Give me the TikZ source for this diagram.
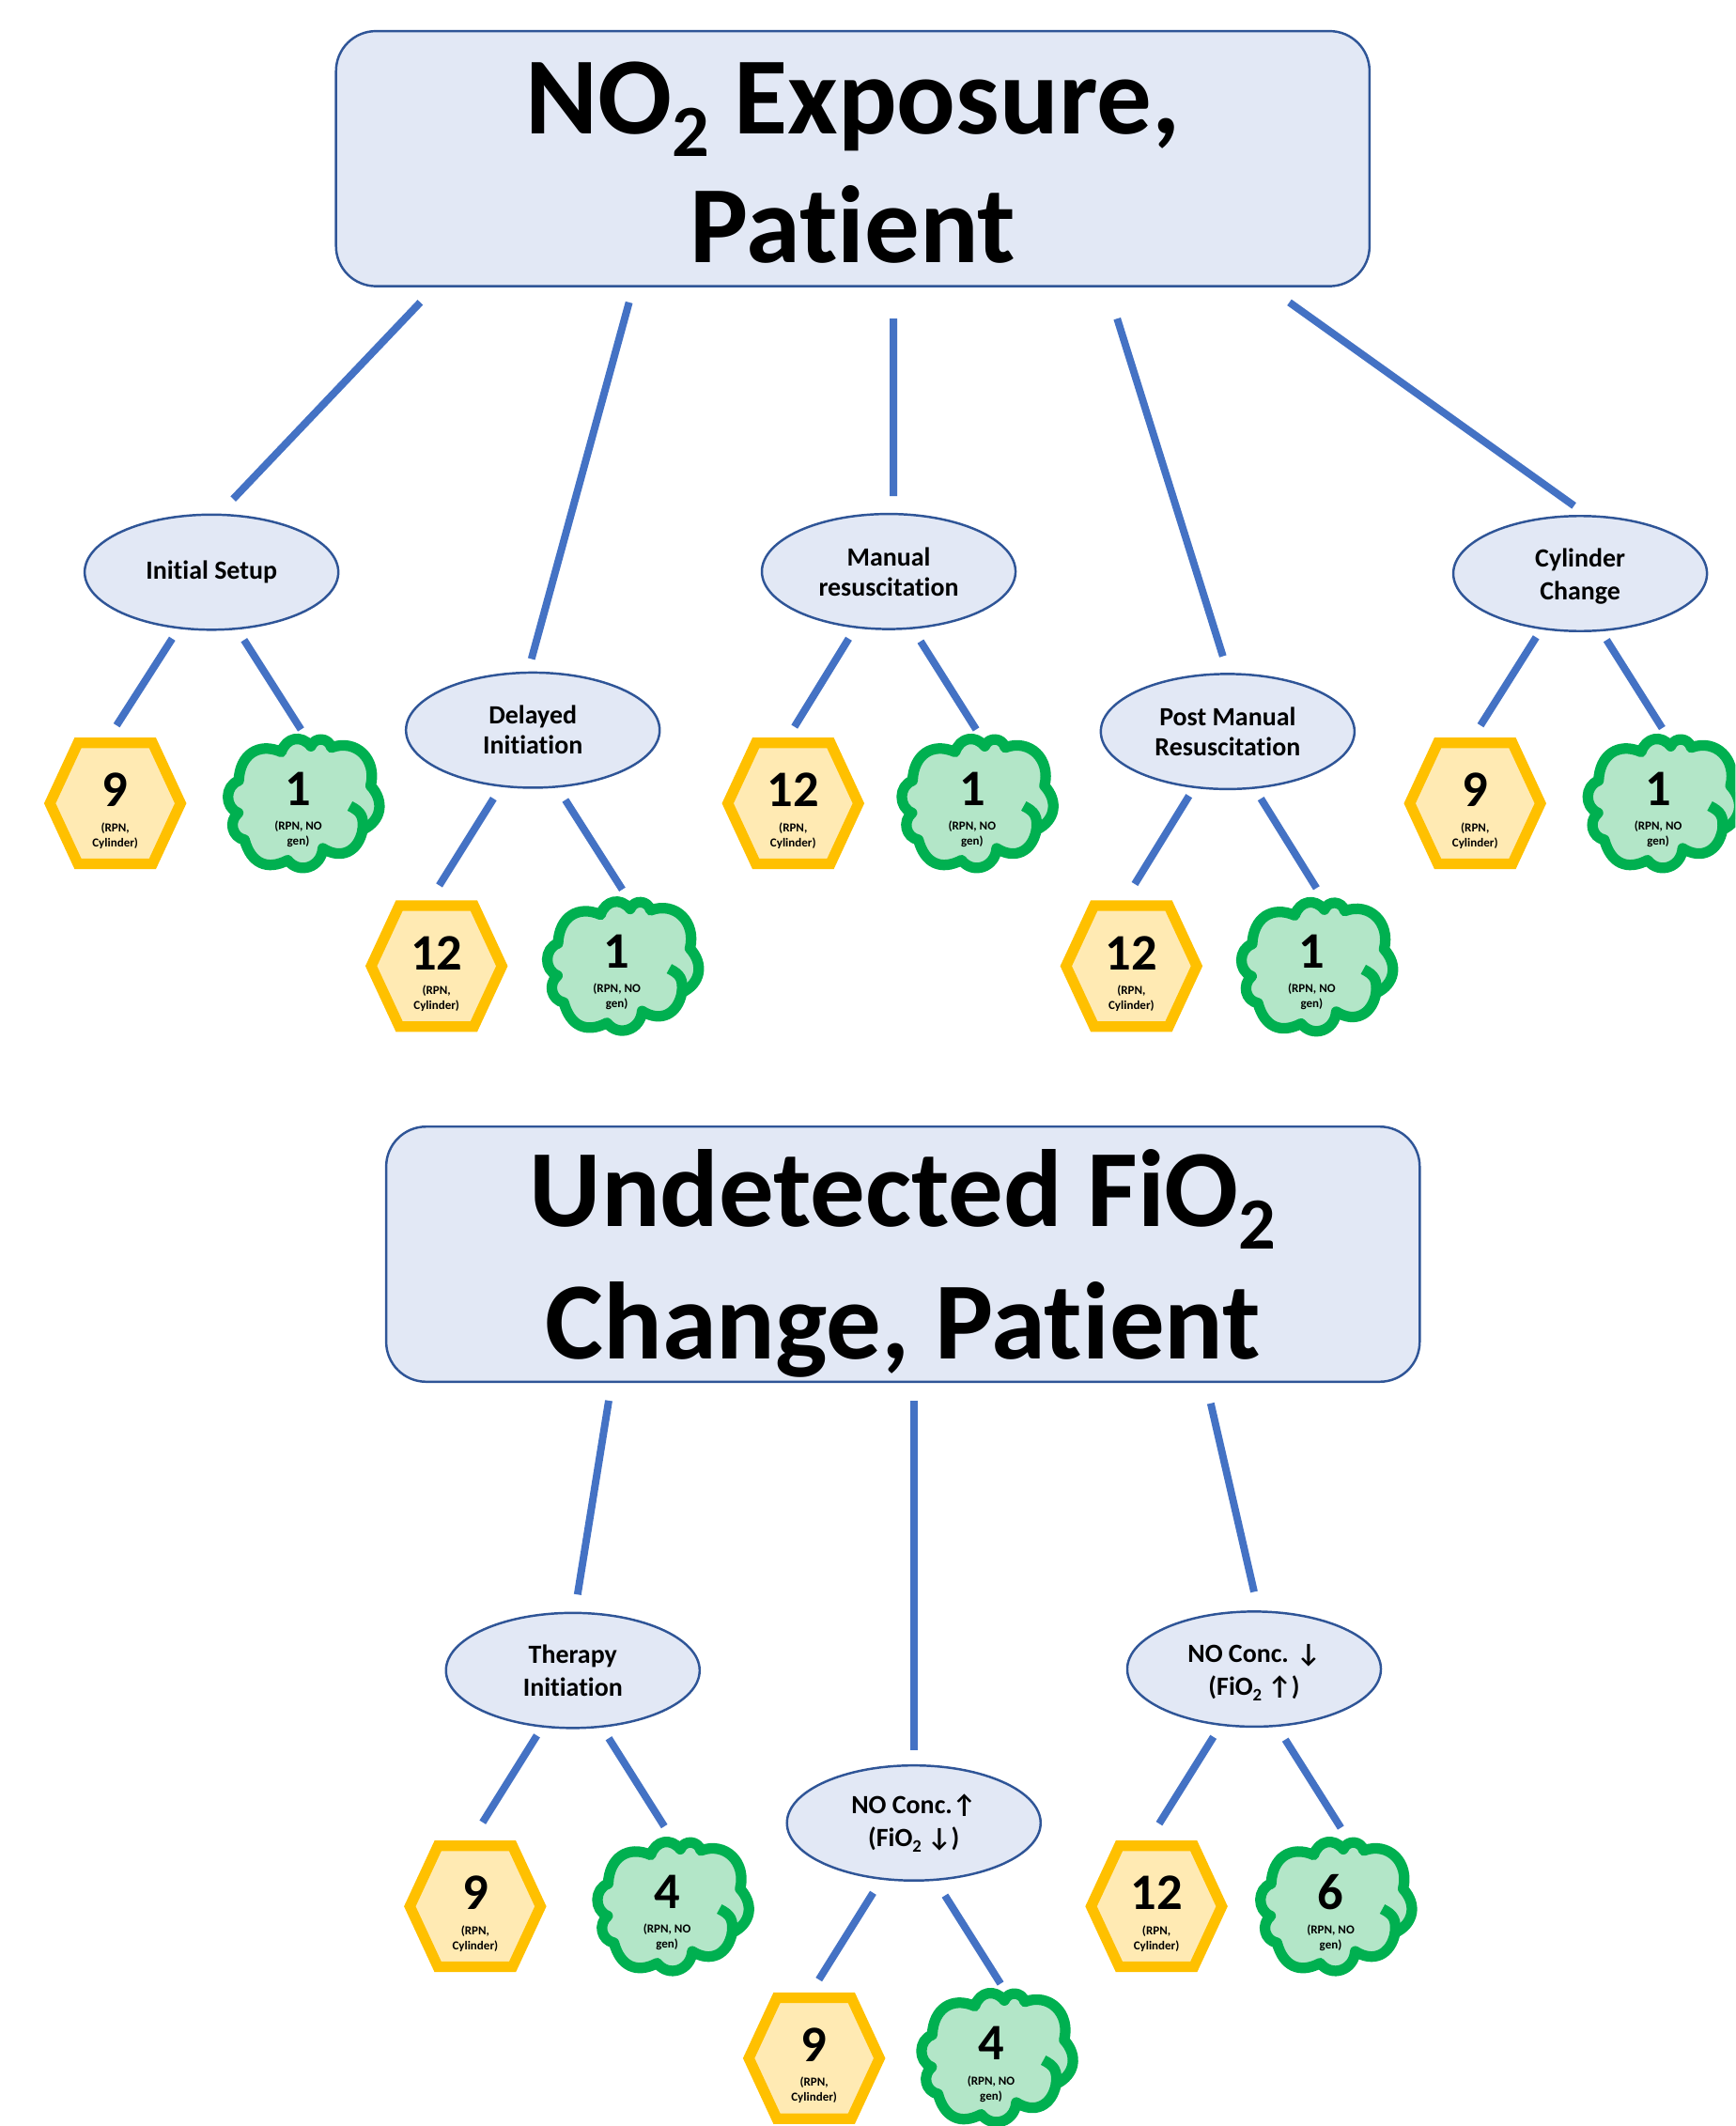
\documentclass[tikz,border=0pt]{standalone}
\usepackage{fontspec}
\setmainfont{Carlito}[Ligatures=CommonOff]
\usetikzlibrary{shapes.geometric}

\definecolor{linkblue}{HTML}{4472C4}
\definecolor{edgeblue}{HTML}{2F5597}
\definecolor{paleblue}{HTML}{E2E8F5}
\definecolor{hexedge}{HTML}{FFC000}
\definecolor{hexfill}{HTML}{FFEAB3}
\definecolor{cloudedge}{HTML}{00B050}
\definecolor{cloudfill}{HTML}{B3E6C8}

\newcommand{\numfont}{\fontsize{31}{32}\selectfont}
\newcommand{\subfont}{\fontsize{7.4}{9}\selectfont}
\newcommand{\hexnote}{\subfont (RPN,\\[-3pt]\subfont Cylinder)}
\newcommand{\cloudnote}{\subfont (RPN, NO\\[-3pt]\subfont gen)}
\newcommand{\lowtwo}{\raisebox{-0.21em}{\scalebox{0.67}{2}}}

\tikzset{
  link/.style={draw=linkblue, line width=4.5pt},
  title/.style={rectangle, rounded corners=8.5mm, draw=edgeblue, fill=paleblue, line width=1.4pt,
    minimum width=220mm, minimum height=54.3mm, align=center, inner sep=0pt,
    font=\fontsize{66.5}{78}\selectfont\bfseries},
  cause/.style={ellipse, draw=edgeblue, fill=paleblue, line width=1.4pt, minimum width=54mm,
    minimum height=24.5mm, align=center, inner sep=0pt, font=\fontsize{15.9}{18.2}\selectfont\bfseries},
  widecause/.style={cause, font=\fontsize{15.9}{19.8}\selectfont\bfseries},
  leaf/.style={align=center, inner sep=0pt, font=\bfseries},
  hexleaf/.pic={
    \draw[draw=hexedge, fill=hexfill, line width=6.4pt, line join=miter]
      (-27.5,-44.6) -- (27.5,-44.6) -- (48.2,0) -- (27.5,44.6) -- (-27.5,44.6) -- (-48.2,0) -- cycle;
  },
  cloudleaf/.pic={
    \begin{scope}[shift={(-1,0)}, xscale=1.02, yscale=1.08, looseness=1.25]
    \draw[draw=cloudedge, fill=cloudfill, line width=6.4pt, line join=round]
      (-46,-15.5) to[bend left=55] (-15.2,-35.1) to[bend left=60] (6.2,-39)
      to[bend left=70] (21,-38.1) to[bend left=62] (49.4,-12) to[bend left=55] (43.6,18)
      to[bend left=55] (14.8,30.7) to[bend left=68] (-10.6,38.8) to[bend left=50] (-41.8,24.9)
      to[bend left=65] (-46.4,6.5) to[bend left=70] (-46,-15.5) -- cycle;
    \draw[draw=cloudedge, line width=6.4pt] (34.4,1.8) to[bend left=35] (43.6,18);
    \end{scope}
  }
}

\begin{document}
\begin{tikzpicture}[x=0.2886mm, y=-0.2886mm]
\clip (0,0) rectangle (1280,1568);

% NO2 exposure
\node[title] (exposure) at (629,117) {\rule{0pt}{48pt}NO\lowtwo{} Exposure,\\Patient};

% Initial setup
\node[cause] (setup) at (156,422) {\raisebox{-5pt}{Initial Setup}};
\pic at (85,592.5) {hexleaf};
\node[leaf] (setuphex) at (85,598) {\numfont 9\\[3pt] \hexnote};
\pic at (224,592.5) {cloudleaf};
\node[leaf] (setupcloud) at (220,597) {\numfont 1\\[3pt] \cloudnote};
\draw[link] ([shift={(-319,106)}]exposure.center) -- ([shift={(16,-54)}]setup.center);
\draw[link] ([shift={(-29,49)}]setup.center) -- ([shift={(1,-63)}]setuphex.center);
\draw[link] ([shift={(24,50)}]setup.center) -- ([shift={(2,-59)}]setupcloud.center);

% Delayed initiation
\node[cause] (delayed) at (393,538.5) {Delayed\\Initiation};
\pic at (322,712.5) {hexleaf};
\node[leaf] (delayedhex) at (322,718) {\numfont 12\\[3pt] \hexnote};
\pic at (459.5,712.5) {cloudleaf};
\node[leaf] (delayedcloud) at (455,717) {\numfont 1\\[3pt] \cloudnote};
\draw[link] ([shift={(-165,106)}]exposure.center) -- ([shift={(-1,-52.5)}]delayed.center);
\draw[link] ([shift={(-29,50.5)}]delayed.center) -- ([shift={(2,-65)}]delayedhex.center);
\draw[link] ([shift={(24,51.5)}]delayed.center) -- ([shift={(4,-61)}]delayedcloud.center);

% Manual resuscitation
\node[cause] (manual) at (655.5,421.5) {Manual\\resuscitation};
\pic at (585,592.5) {hexleaf};
\node[leaf] (manualhex) at (585,598) {\numfont 12\\[3pt] \hexnote};
\pic at (721,592.5) {cloudleaf};
\node[leaf] (manualcloud) at (717,597) {\numfont 1\\[3pt] \cloudnote};
\draw[link] ([shift={(30,118)}]exposure.center) -- ([shift={(3.5,-55.5)}]manual.center);
\draw[link] ([shift={(-29.5,49.5)}]manual.center) -- ([shift={(1,-62)}]manualhex.center);
\draw[link] ([shift={(23.5,51.5)}]manual.center) -- ([shift={(3,-59)}]manualcloud.center);

% Post manual resuscitation
\node[cause] (postmanual) at (905.5,539.5) {Post Manual\\Resuscitation};
\pic at (834.5,712.5) {hexleaf};
\node[leaf] (postmanualhex) at (834.5,718) {\numfont 12\\[3pt] \hexnote};
\pic at (971.5,713) {cloudleaf};
\node[leaf] (postmanualcloud) at (967.5,717) {\numfont 1\\[3pt] \cloudnote};
\draw[link] ([shift={(195,118)}]exposure.center) -- ([shift={(-3.5,-55.5)}]postmanual.center);
\draw[link] ([shift={(-28.5,47.5)}]postmanual.center) -- ([shift={(2.5,-66)}]postmanualhex.center);
\draw[link] ([shift={(24.5,49.5)}]postmanual.center) -- ([shift={(3.5,-62)}]postmanualcloud.center);

% Cylinder change
\node[widecause] (cylinder) at (1165.5,423) {\rule{0pt}{15pt}Cylinder\\Change};
\pic at (1088,592.5) {hexleaf};
\node[leaf] (cylinderhex) at (1088,598) {\numfont 9\\[3pt] \hexnote};
\pic at (1227,592.5) {cloudleaf};
\node[leaf] (cylindercloud) at (1223,597) {\numfont 1\\[3pt] \cloudnote};
\draw[link] ([shift={(322,106)}]exposure.center) -- ([shift={(-4.5,-50)}]cylinder.center);
\draw[link] ([shift={(-32.5,47)}]cylinder.center) -- ([shift={(4,-63)}]cylinderhex.center);
\draw[link] ([shift={(19.5,49)}]cylinder.center) -- ([shift={(3,-60)}]cylindercloud.center);

% Undetected FiO2 change
\node[title] (undetected) at (666,925) {\rule{0pt}{58pt}Undetected FiO\lowtwo\\[2.5pt]Change, Patient};

% Therapy initiation
\node[widecause] (therapy) at (422.5,1232) {Therapy\\Initiation};
\pic at (350.5,1406) {hexleaf};
\node[leaf] (therapyhex) at (350.5,1411.5) {\numfont 9\\[3pt] \hexnote};
\pic at (496.5,1406) {cloudleaf};
\node[leaf] (therapycloud) at (492,1410.5) {\numfont 4\\[3pt] \cloudnote};
\draw[link] ([shift={(-217,108)}]undetected.center) -- ([shift={(3.5,-56)}]therapy.center);
\draw[link] ([shift={(-26.5,48)}]therapy.center) -- ([shift={(5.5,-67.5)}]therapyhex.center);
\draw[link] ([shift={(26.5,50)}]therapy.center) -- ([shift={(-2,-63.5)}]therapycloud.center);

% NO conc. up
\node[widecause] (concup) at (674,1344.5) {NO Conc.↑\\(FiO\lowtwo{} ↓)};
\pic at (600.5,1518) {hexleaf};
\node[leaf] (concuphex) at (600.5,1523.5) {\numfont 9\\[3pt] \hexnote};
\pic at (735.5,1517.5) {cloudleaf};
\node[leaf] (concupcloud) at (731,1522.5) {\numfont 4\\[3pt] \cloudnote};
\draw[link] ([shift={(8,108)}]undetected.center) -- ([shift={(0,-53.5)}]concup.center);
\draw[link] ([shift={(-30,51.5)}]concup.center) -- ([shift={(3.5,-63.5)}]concuphex.center);
\draw[link] ([shift={(23,53.5)}]concup.center) -- ([shift={(7,-59.5)}]concupcloud.center);

% NO conc. down
\node[widecause] (concdown) at (925,1231) {\rule{0pt}{15pt}NO Conc. ↓\\(FiO\lowtwo{} ↑)};
\pic at (853,1406) {hexleaf};
\node[leaf] (concdownhex) at (853,1411.5) {\numfont 12\\[3pt] \hexnote};
\pic at (985.5,1406) {cloudleaf};
\node[leaf] (concdowncloud) at (981.5,1410.5) {\numfont 6\\[3pt] \cloudnote};
\draw[link] ([shift={(227,110)}]undetected.center) -- ([shift={(0,-57)}]concdown.center);
\draw[link] ([shift={(-30,50)}]concdown.center) -- ([shift={(2,-66.5)}]concdownhex.center);
\draw[link] ([shift={(23,52)}]concdown.center) -- ([shift={(7.5,-62.5)}]concdowncloud.center);

\end{tikzpicture}
\end{document}
